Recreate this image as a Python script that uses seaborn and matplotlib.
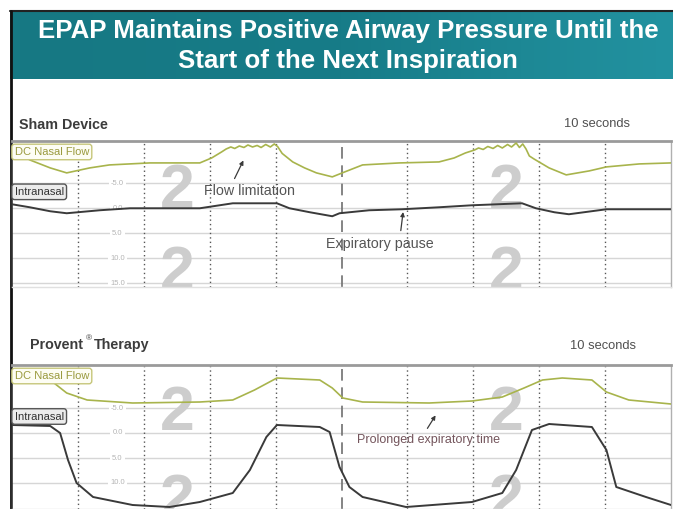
import matplotlib
matplotlib.use("Agg")
import matplotlib.pyplot as plt
import seaborn as sns
import pandas as pd
import numpy as np
from matplotlib.colors import LinearSegmentedColormap

sns.set_theme(style="white")
plt.rcParams["font.family"] = ["Liberation Sans", "DejaVu Sans"]

# time in seconds, values in the recorder's units (intranasal pressure scale)
sham_flow_t = [0.00, 0.27, 0.58, 0.83, 1.18, 1.48, 2.09, 2.85, 3.03, 3.18, 3.25, 3.32, 3.38,
               3.45, 3.52, 3.58, 3.65, 3.72, 3.78, 3.85, 3.92, 3.98, 4.03, 4.10, 4.26, 4.44,
               4.62, 4.86, 5.05, 5.32, 5.88, 6.48, 6.71, 6.88, 7.02, 7.08, 7.15, 7.22, 7.30,
               7.37, 7.44, 7.52, 7.58, 7.65, 7.70, 7.75, 7.80, 7.85, 7.92, 8.15, 8.41, 8.76,
               9.02, 9.52, 10.00]
sham_flow_v = [-11.9, -9.7, -8.1, -7.1, -8.1, -8.7, -9.1, -9.1, -10.1, -11.3, -11.9, -12.3,
               -12.0, -12.5, -12.2, -12.7, -12.3, -12.6, -12.2, -12.8, -12.3, -12.9, -12.4,
               -11.0, -9.3, -8.1, -7.1, -6.3, -7.3, -8.7, -9.1, -9.3, -10.1, -11.1, -11.7,
               -12.1, -11.8, -12.4, -12.0, -12.6, -12.1, -12.8, -12.3, -13.1, -12.2, -12.9,
               -11.9, -10.5, -9.9, -8.1, -6.7, -7.5, -8.3, -8.9, -9.1]
sham_press_t = [0.00, 0.27, 0.58, 0.83, 1.33, 1.79, 2.85, 3.35, 4.02, 4.21, 4.52, 4.86, 4.97,
                5.42, 5.92, 6.48, 6.98, 7.74, 7.95, 8.23, 8.45, 9.02, 10.00]
sham_press_v = [-0.8, -0.2, 0.6, 1.0, 0.4, 0.0, 0.0, -1.0, -1.0, 0.0, 0.8, 1.6, 1.0,
                0.4, 0.2, -0.2, -0.6, -1.0, 0.0, 0.8, 1.2, 0.2, 0.2]

prov_flow_t = [0.00, 0.58, 0.83, 1.14, 1.83, 2.85, 3.35, 3.68, 4.02, 4.67, 4.86, 5.02, 5.32,
               6.33, 6.98, 7.44, 7.77, 8.05, 8.35, 8.80, 9.02, 9.36, 10.00]
prov_flow_v = [-11.0, -10.6, -8.0, -6.6, -6.0, -6.2, -6.6, -8.6, -11.0, -10.6, -9.0, -7.0,
               -6.2, -6.0, -6.4, -7.2, -9.0, -10.6, -11.0, -10.6, -8.2, -6.6, -5.8]
prov_press_t = [0.00, 0.58, 0.73, 0.85, 0.98, 1.23, 1.83, 2.39, 2.85, 3.35, 3.61, 3.86, 4.02,
                4.67, 4.82, 4.97, 5.12, 5.32, 5.98, 6.98, 7.44, 7.65, 7.89, 8.15, 8.80, 9.02,
                9.17, 9.62, 10.00]
prov_press_v = [-1.6, -1.4, 0.0, 5.4, 10.0, 12.8, 14.4, 14.8, 13.8, 12.0, 7.4, 0.8, -1.6,
                -1.2, -0.2, 6.8, 10.8, 12.8, 14.8, 13.8, 12.0, 7.4, -0.6, -1.8, -1.2, 3.4,
                10.8, 12.8, 14.4]

sham_levels = [-5, 0, 5, 10, 15]
sham_labels = ["-5.0", "0.0", "5.0", "10.0", "15.0"]
prov_levels = [-5, 0, 5, 10]
prov_labels = ["-5.0", "0.0", "5.0", "10.0"]
sec_lines = [1, 2, 3, 4, 6, 7, 8, 9]

W, H = 673, 509
fig = plt.figure(figsize=(W / 100, H / 100), dpi=100)

# slide background with teal title banner
bg = fig.add_axes([0, 0, 1, 1])
bg.set_xlim(0, W)
bg.set_ylim(H, 0)
bg.axis("off")
teal = LinearSegmentedColormap.from_list("teal", ["#167883", "#177c88", "#2292a0"])
bg.imshow(np.linspace(0, 1, 200)[None, :], cmap=teal, aspect="auto",
          extent=(10, W, 79, 11), zorder=1)
bg.plot([10, W], [11, 11], color="#222222", lw=1.5, zorder=3)
bg.plot([10.5, 10.5], [11, H], color="#111111", lw=2, zorder=3)
bg.set_xlim(0, W)
bg.set_ylim(H, 0)
bg.text(348, 31, "EPAP Maintains Positive Airway Pressure Until the", color="white",
        fontsize=18.6, fontweight="bold", ha="center", va="center", zorder=4)
bg.text(348, 61, "Start of the Next Inspiration", color="white",
        fontsize=18.6, fontweight="bold", ha="center", va="center", zorder=4)

bg.text(19, 125, "Sham Device", fontsize=10.3, fontweight="bold", color="#3c3c3c", va="center")
bg.text(630, 124, "10 seconds", fontsize=9.3, color="#505050", va="center", ha="right")
bg.text(30, 345, "Provent", fontsize=10.3, fontweight="bold", color="#3c3c3c", va="center")
bg.text(85.5, 339, "®", fontsize=6, color="#3c3c3c", va="center")
bg.text(94, 345, "Therapy", fontsize=10.3, fontweight="bold", color="#3c3c3c", va="center")
bg.text(636, 346, "10 seconds", fontsize=9.3, color="#505050", va="center", ha="right")


def panel(top, bottom, ylim, levels, labels, marks, flow_t, flow_v, press_t, press_v):
    ax = fig.add_axes([12 / W, (H - bottom) / H, 659 / W, (bottom - top) / H])
    ax.set_xlim(0, 10)
    ax.set_ylim(*ylim)
    ax.set_facecolor("white")
    for lv, lb in zip(levels, labels):
        ax.axhline(lv, color="#d6d6d6", lw=1, zorder=1)
        ax.text(1.6, lv, lb, fontsize=5.5, color="#b5b5b5", ha="center", va="center",
                bbox=dict(facecolor="white", edgecolor="none", pad=1.5), zorder=2)
    for s in sec_lines:
        ax.axvline(s, color="#555555", lw=1, ls=(0, (1, 2.2)), zorder=2)
    ax.axvline(5, color="#707070", lw=1.2, ls=(0, (7, 4)), zorder=2)
    # faint "2" watermarks of the recorder screen
    for tx in [2.5, 7.5]:
        for base in marks:
            ax.text(tx, base, "2", fontsize=45, fontweight="bold", color="#cdcdcd",
                    ha="center", va="baseline", zorder=1.5, clip_on=True)
    flow = pd.DataFrame({"t": flow_t, "v": flow_v})
    press = pd.DataFrame({"t": press_t, "v": press_v})
    sns.lineplot(data=flow, x="t", y="v", ax=ax, color="#a8b44c", lw=1.2, zorder=4)
    sns.lineplot(data=press, x="t", y="v", ax=ax, color="#3a3a3a", lw=1.4, zorder=4)
    ax.set_xticks([])
    ax.set_yticks([])
    ax.set_xlabel("")
    ax.set_ylabel("")
    for side, c, w in [("top", "#9a9a9a", 2), ("left", "#333333", 1.2),
                       ("right", "#b0b0b0", 1), ("bottom", "#e0e0e0", 1)]:
        ax.spines[side].set_color(c)
        ax.spines[side].set_linewidth(w)
    ax.text(0.04, ylim[1] + 2.2, "DC Nasal Flow", fontsize=8, color="#9a9a3e",
            va="center", zorder=6,
            bbox=dict(facecolor="#fdfdf4", edgecolor="#c6c67a", boxstyle="round,pad=0.25"))
    ax.text(0.04, -3.3, "Intranasal", fontsize=8, color="#333333",
            va="center", zorder=6,
            bbox=dict(facecolor="#ececec", edgecolor="#555555", boxstyle="round,pad=0.25"))
    return ax


ax1 = panel(141, 287, (15.8, -13.5), sham_levels, sham_labels, [0.0, 16.4],
            sham_flow_t, sham_flow_v, sham_press_t, sham_press_v)
ax2 = panel(365, 509, (15.2, -13.6), prov_levels, prov_labels, [-0.6, 17.0],
            prov_flow_t, prov_flow_v, prov_press_t, prov_press_v)

arrow = dict(arrowstyle="-|>", color="#3a3a3a", lw=0.9, mutation_scale=6)
ax1.annotate("Flow limitation", xy=(3.53, -10.1), xytext=(2.92, -3.4), fontsize=10.3,
             color="#555555", va="center", arrowprops=dict(arrow, relpos=(0.3, 1)), zorder=7)
ax1.annotate("Expiratory pause", xy=(5.94, 0.2), xytext=(4.76, 7.1), fontsize=10.3,
             color="#555555", va="center", arrowprops=dict(arrow, relpos=(0.69, 1)), zorder=7)
ax2.annotate("Prolonged expiratory time", xy=(6.45, -4.0), xytext=(5.23, 1.4), fontsize=9,
             color="#74555c", va="center", arrowprops=dict(arrow, relpos=(0.47, 1)), zorder=7)

fig.savefig("out.png", dpi=100)
